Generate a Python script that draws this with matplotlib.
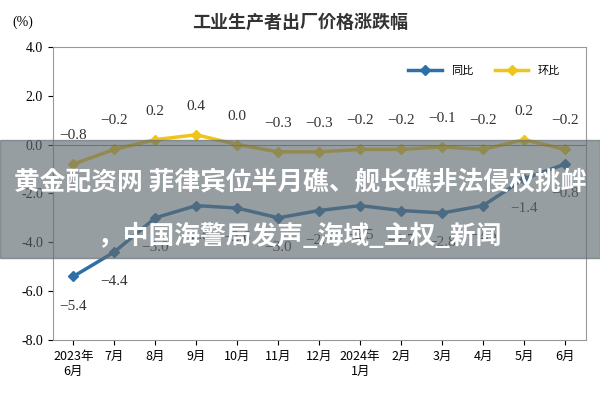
import matplotlib.pyplot as plt
import numpy as np

months = ['2023年\n6月', '7月', '8月', '9月', '10月', '11月', '12月', '2024年\n1月', '2月', '3月', '4月', '5月', '6月']
yoy = [-5.4, -4.4, -3.0, -2.5, -2.6, -3.0, -2.7, -2.5, -2.7, -2.8, -2.5, -1.4, -0.8]
mom = [-0.8, -0.2, 0.2, 0.4, 0.0, -0.3, -0.3, -0.2, -0.2, -0.1, -0.2, 0.2, -0.2]

cjk = ['Noto Sans CJK SC', 'Noto Sans CJK JP', 'Noto Sans CJK TC', 'DejaVu Sans']
serif = ['Liberation Serif', 'Noto Sans CJK SC', 'Noto Sans CJK JP']

fig = plt.figure(figsize=(6, 4), dpi=100)
ax = fig.add_axes([0.088, 0.15, 0.888, 0.733])
x = np.arange(len(months))

ax.plot(x, yoy, color='#2e6fa8', lw=2.5, marker='D', ms=5, label='同比')
ax.plot(x, mom, color='#f0c419', lw=2.5, marker='D', ms=5, label='环比')

for i, v in enumerate(mom):
    ax.annotate(f'{v:.1f}'.replace('-', '−'), (i, v), xytext=(0, 18), textcoords='offset points',
                ha='center', fontsize=11, fontfamily=serif, color='#333333')
for i, v in enumerate(yoy):
    ax.annotate(f'{v:.1f}'.replace('-', '−'), (i, v), xytext=(0, -24), textcoords='offset points',
                ha='center', fontsize=11, fontfamily=serif, color='#333333')

ax.set_xlim(-0.5, len(months) - 0.5)
ax.set_ylim(-8, 4)
ax.set_yticks(np.arange(-8, 4.1, 2))
ax.set_yticklabels([f'{t:.1f}' for t in np.arange(-8, 4.1, 2)], fontfamily=serif, fontsize=10)
ax.set_xticks(x)
ax.set_xticklabels(months, fontfamily=cjk, fontsize=9)
ax.axhline(0, color='#888888', lw=0.8)
for s in ax.spines.values():
    s.set_color('#999999')

ax.legend(loc='upper right', bbox_to_anchor=(0.97, 0.97), ncol=2, frameon=False,
          prop={'family': cjk, 'size': 8}, handlelength=3)

fig.text(0.5, 0.945, '工业生产者出厂价格涨跌幅', ha='center', va='center',
         fontfamily=cjk, fontsize=13, fontweight='bold', color='#333333')
fig.text(0.02, 0.945, '(%)', ha='left', va='center', fontfamily=serif, fontsize=10)

# overlay banner
fig.patches.append(plt.Rectangle((0, 0.355), 1, 0.295, transform=fig.transFigure,
                                 color='#5f6b70', alpha=0.65, zorder=5))
fig.text(0.5, 0.545, '黄金配资网 菲律宾位半月礁、舰长礁非法侵权挑衅', ha='center', va='center',
         fontfamily=cjk, fontsize=18.5, fontweight='bold', color='white', zorder=6)
fig.text(0.5, 0.41, '，中国海警局发声_海域_主权_新闻', ha='center', va='center',
         fontfamily=cjk, fontsize=18.5, fontweight='bold', color='white', zorder=6)

fig.savefig('out.png', dpi=100)
